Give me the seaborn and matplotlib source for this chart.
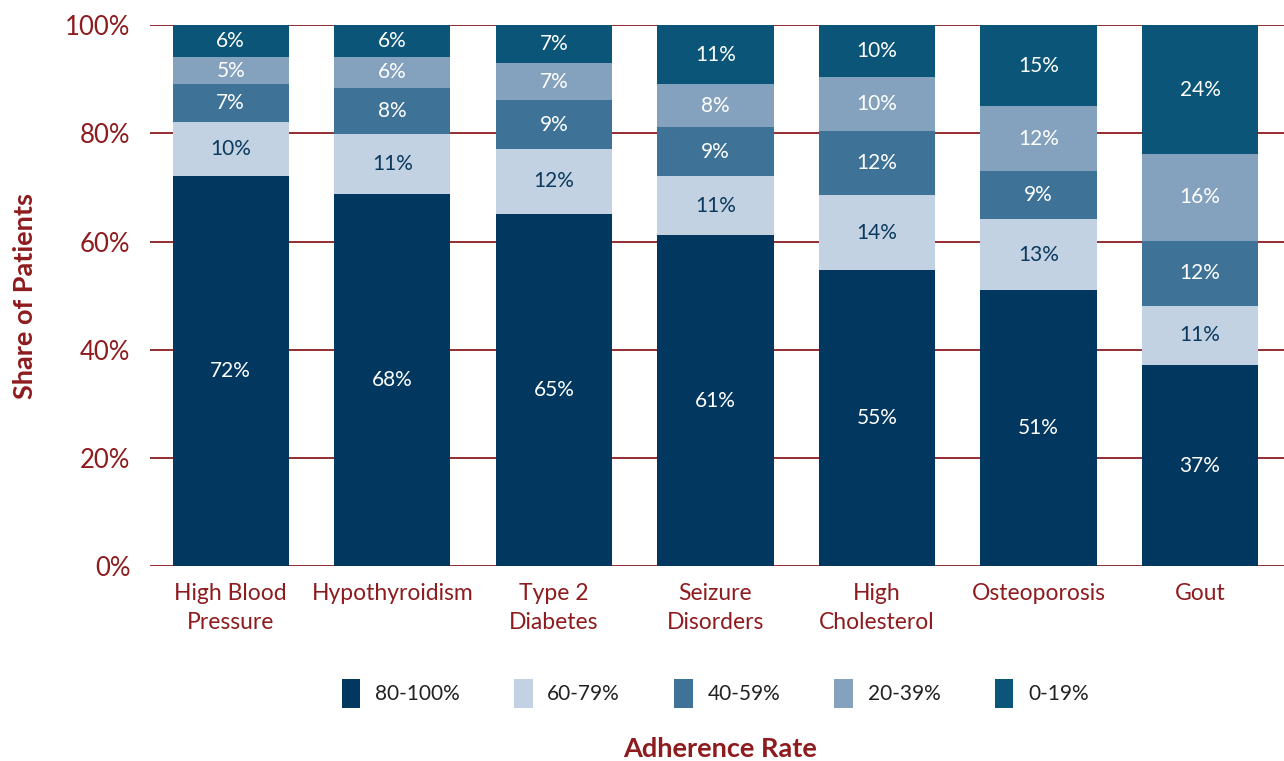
import matplotlib
matplotlib.use("Agg")
import matplotlib.pyplot as plt
import seaborn as sns
import numpy as np

# Datos (altura real de cada tramo y etiqueta mostrada)
categorias = ["High Blood\nPressure", "Hypothyroidism", "Type 2\nDiabetes", "Seizure\nDisorders",
              "High\nCholesterol", "Osteoporosis", "Gout"]
tramos = ["80-100%", "60-79%", "40-59%", "20-39%", "0-19%"]
v_80_100 = [72.1, 68.8, 65.1, 61.2, 54.7, 51.0, 37.2]
v_60_79 = [10.0, 11.1, 12.0, 10.9, 13.9, 13.1, 10.9]
v_40_59 = [7.0, 8.5, 9.0, 9.0, 11.8, 8.9, 12.0]
v_20_39 = [5.0, 5.7, 6.9, 8.0, 10.0, 12.0, 16.1]
v_0_19 = [5.9, 5.9, 7.0, 10.9, 9.6, 15.0, 23.8]
lab_80_100 = [72, 68, 65, 61, 55, 51, 37]
lab_60_79 = [10, 11, 12, 11, 14, 13, 11]
lab_40_59 = [7, 8, 9, 9, 12, 9, 12]
lab_20_39 = [5, 6, 7, 8, 10, 12, 16]
lab_0_19 = [6, 6, 7, 11, 10, 15, 24]

valores = [v_80_100, v_60_79, v_40_59, v_20_39, v_0_19]
etiquetas = [lab_80_100, lab_60_79, lab_40_59, lab_20_39, lab_0_19]
colores = ["#02375F", "#C2D2E2", "#3E7297", "#84A2BE", "#0B5579"]
color_texto = ["white", "#0B3A5E", "white", "white", "white"]

rojo = "#8E1B1E"
sns.set_style("white")
plt.rcParams["font.family"] = ["Lato", "DejaVu Sans"]

fig = plt.figure(figsize=(12.84, 7.61), dpi=100)
ax = fig.add_axes([0.1168, 0.256, 0.8832, 0.711])

base = np.zeros(len(categorias))
for i, tramo in enumerate(tramos):
    sns.barplot(x=categorias, y=valores[i], bottom=base, color=colores[i], width=0.72,
                label=tramo, ax=ax, saturation=1, linewidth=0, zorder=3)
    cont = ax.containers[-1]
    ax.bar_label(cont, labels=[f"{v}%" for v in etiquetas[i]], label_type="center",
                 color=color_texto[i], fontsize=15)
    base = base + np.array(valores[i])

ax.set_ylim(0, 100)
ax.set_xlim(-0.5, 6.52)
ax.set_yticks(range(0, 101, 20))
ax.set_yticklabels([f"{t}%" for t in range(0, 101, 20)])
ax.yaxis.grid(True, color=rojo, linewidth=1.3, zorder=0)
ax.set_axisbelow(True)
for s in ax.spines.values():
    s.set_visible(False)
ax.tick_params(axis="both", length=0, colors=rojo)
ax.tick_params(axis="y", pad=14, labelsize=18.5)
ax.tick_params(axis="x", pad=12, labelsize=16.5)
for t in ax.get_xticklabels():
    t.set_linespacing(1.45)
ax.set_ylabel("Share of Patients", color=rojo, fontsize=19.5, fontweight="bold")
ax.yaxis.set_label_coords(-0.1, 0.5)
ax.set_xlabel("")

if ax.legend_:
    ax.legend_.remove()
handles, labels = ax.get_legend_handles_labels()
fig.legend(handles, labels, loc="center", bbox_to_anchor=(0.557, 0.089), ncol=5, frameon=False,
           fontsize=15, handlelength=0.9, handleheight=1.8, handletextpad=0.7, columnspacing=2.6,
           labelcolor="#222222")
fig.text(0.561, 0.0, "Adherence Rate", color=rojo, fontsize=19.5, fontweight="bold",
         ha="center", va="bottom")

fig.savefig("out.png", dpi=100)
